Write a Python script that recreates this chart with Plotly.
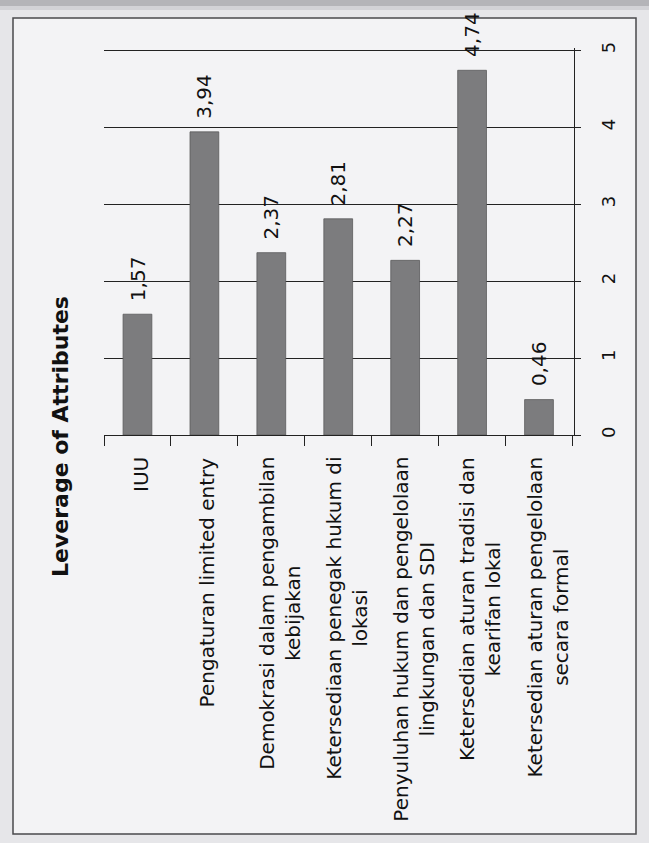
import plotly.graph_objects as go

# ---- data ----
categories = [
    "IUU",
    "Pengaturan limited entry",
    "Demokrasi dalam pengambilan<br>kebijakan",
    "Ketersediaan penegak hukum di<br>lokasi",
    "Penyuluhan hukum dan pengelolaan<br>lingkungan dan SDI",
    "Ketersedian aturan tradisi dan<br>kearifan lokal",
    "Ketersedian aturan pengelolaan<br>secara formal",
]
values = [1.57, 3.94, 2.37, 2.81, 2.27, 4.74, 0.46]
value_ticks = [0, 1, 2, 3, 4, 5]
chart_title = "Leverage of Attributes"

# ---- layout geometry (pixels) ----
W, H = 649, 843
PL, PR, PT, PB = 104, 574, 48, 435
YMAX = 5.03


def px_x(p):
    return (p - PL) / (PR - PL)


def px_y(p):
    return (PB - p) / (PB - PT)


FONT = "DejaVu Sans"

fig = go.Figure(
    go.Bar(
        x=categories,
        y=values,
        marker=dict(color="#7c7c7e", line=dict(color="#5a5a5c", width=0.8)),
        showlegend=False,
        hoverinfo="x+y",
    )
)

# value labels above bars
for c, v in zip(categories, values):
    fig.add_annotation(
        x=c, y=v, xref="x", yref="y",
        text=f"{v:.2f}".replace(".", ","),
        textangle=-90, showarrow=False,
        xanchor="center", yanchor="bottom", yshift=11,
        font=dict(family=FONT, size=20, color="#111"),
    )

# category labels (rotated, lines centred)
for c in categories:
    n = len(c.split("<br>"))
    fig.add_annotation(
        x=c, y=px_y(455), xref="x", yref="paper",
        text=c, textangle=-90, showarrow=False, align="center",
        xanchor="center", yanchor="top", xshift=8 if n > 1 else 3,
        font=dict(family=FONT, size=20, color="#111"),
    )

# title
fig.add_annotation(
    x=px_x(60), y=px_y(437), xref="paper", yref="paper",
    text="<b>" + chart_title + "</b>", textangle=-90, showarrow=False,
    xanchor="center", yanchor="middle",
    font=dict(family=FONT, size=22, color="#111"),
)

# scanned page look: frame and dark top strip
fig.add_shape(type="rect", xref="paper", yref="paper",
              x0=px_x(0), x1=px_x(W), y0=px_y(0), y1=px_y(6),
              fillcolor="#b4b4b8", line=dict(width=0), layer="below")
fig.add_shape(type="rect", xref="paper", yref="paper",
              x0=px_x(0), x1=px_x(W), y0=px_y(6), y1=px_y(10),
              fillcolor="#d2d2d6", line=dict(width=0), layer="below")
fig.add_shape(type="rect", xref="paper", yref="paper",
              x0=px_x(13), x1=px_x(636), y0=px_y(18), y1=px_y(834),
              fillcolor="#f3f3f5", line=dict(color="#4a4a4c", width=1.5),
              layer="below")

fig.update_layout(
    width=W, height=H,
    margin=dict(l=PL, r=W - PR, t=PT, b=H - PB, pad=0),
    paper_bgcolor="#e6e6e9",
    plot_bgcolor="rgba(0,0,0,0)",
    bargap=0.57,
    font=dict(family=FONT, color="#111"),
    xaxis=dict(
        type="category",
        showticklabels=False,
        tickson="boundaries",
        ticks="outside", ticklen=10, tickcolor="#222", tickwidth=1,
        showline=True, linecolor="#222", linewidth=1,
        showgrid=False, zeroline=False,
    ),
    yaxis=dict(
        side="right",
        range=[0, YMAX],
        tickvals=value_ticks,
        ticktext=[str(t) for t in value_ticks],
        tickangle=-90,
        ticks="outside", ticklen=6, tickcolor="#222",
        ticklabelstandoff=12,
        tickfont=dict(family=FONT, size=18, color="#111"),
        showline=True, linecolor="#222", linewidth=1,
        showgrid=True, gridcolor="#222", gridwidth=1,
        zeroline=False,
    ),
)

fig.write_html("out.html")
